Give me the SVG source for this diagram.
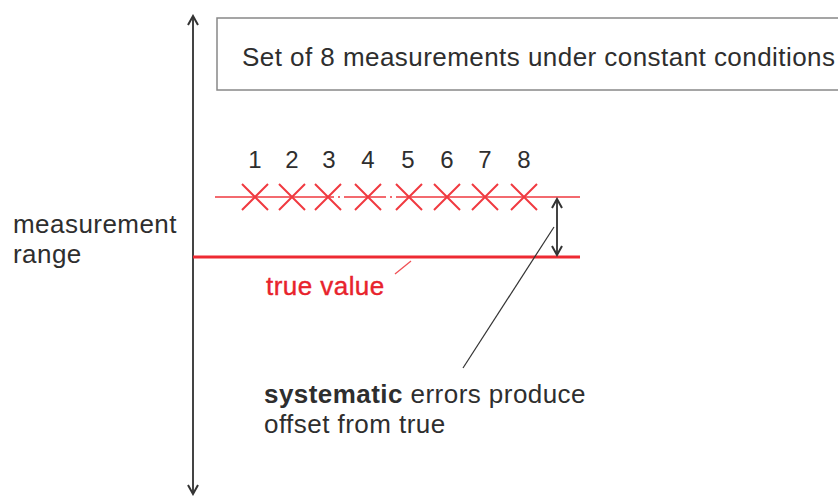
<svg xmlns="http://www.w3.org/2000/svg" width="838" height="499" viewBox="0 0 838 499">
<style>
.t{font-family:"Liberation Sans",Arial,sans-serif;font-size:26px;letter-spacing:0.45px;fill:#2e2e2e}
.d{font-family:"Liberation Sans",Arial,sans-serif;font-size:24px;fill:#2e2e2e;text-anchor:middle}
.r{font-family:"Liberation Sans",Arial,sans-serif;font-size:26px;letter-spacing:0.45px;fill:#e8232c;stroke:#e8232c;stroke-width:0.4}
.x{stroke:#f03a40;stroke-width:2;fill:none}
.ar{stroke:#444;stroke-width:2;fill:none}
</style>
<defs>
<marker id="chev" viewBox="0 0 12 12" refX="10" refY="6" markerWidth="12" markerHeight="12" markerUnits="userSpaceOnUse" orient="auto-start-reverse">
<path d="M1,1 L10,6 L1,11" fill="none" stroke="#333" stroke-width="2"/>
</marker>
</defs>
<rect width="838" height="499" fill="#fff"/>
<g id="range-axis">
<line x1="193" y1="16" x2="193" y2="494" class="ar" marker-start="url(#chev)" marker-end="url(#chev)"/>
<text class="t" x="13" y="233">measurement</text>
<text class="t" x="13" y="263">range</text>
</g>
<g id="title-box">
<rect x="217" y="18" width="660" height="72" fill="#fff" stroke="#888" stroke-width="1.5"/>
<text class="t" x="242" y="66">Set of 8 measurements under constant conditions</text>
</g>
<g id="measurements">
<path d="M215,197H334M338,197H340M344,197H386M390,197H392M396,197H580" stroke="#f03a40" stroke-width="1.6" fill="none"/>
<g class="x">
<path d="M242,184L268,210M268,184L242,210"/>
<path d="M279,184L305,210M305,184L279,210"/>
<path d="M315,184L341,210M341,184L315,210"/>
<path d="M355,184L381,210M381,184L355,210"/>
<path d="M396,184L422,210M422,184L396,210"/>
<path d="M434,184L460,210M460,184L434,210"/>
<path d="M472,184L498,210M498,184L472,210"/>
<path d="M511,184L537,210M537,184L511,210"/>
</g>
<text class="d" x="255" y="168">1</text>
<text class="d" x="292" y="168">2</text>
<text class="d" x="329" y="168">3</text>
<text class="d" x="368" y="168">4</text>
<text class="d" x="408" y="168">5</text>
<text class="d" x="447" y="168">6</text>
<text class="d" x="485" y="168">7</text>
<text class="d" x="524" y="168">8</text>
</g>
<g id="true-value">
<line x1="193" y1="257" x2="580" y2="257" stroke="#ee2a32" stroke-width="3"/>
<line x1="395" y1="274" x2="411" y2="261" stroke="#f05055" stroke-width="1.3"/>
<text class="r" x="266" y="295">true value</text>
</g>
<g id="connectors">
<line x1="557" y1="199" x2="557" y2="255" class="ar" marker-start="url(#chev)" marker-end="url(#chev)"/>
<line x1="463" y1="368" x2="554" y2="227" stroke="#333" stroke-width="1.2"/>
</g>
<g id="systematic-note">
<text class="t" x="264" y="403"><tspan font-weight="bold">systematic</tspan> errors produce</text>
<text class="t" x="264" y="433">offset from true</text>
</g>
</svg>
